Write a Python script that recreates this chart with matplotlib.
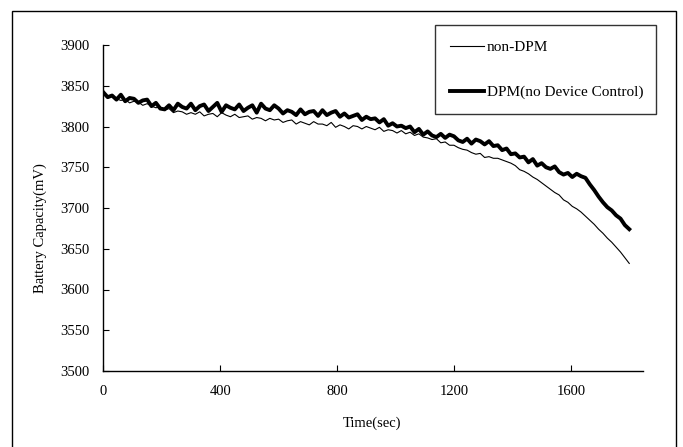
import numpy as np
import matplotlib
matplotlib.use("Agg")
import matplotlib.pyplot as plt
from matplotlib.patches import Rectangle

# sample times (sec), one reading every 15 s
time_sec = np.arange(0, 1801, 15)

# non-DPM battery voltage (mV)
non_dpm = [
    3840, 3835, 3837, 3834, 3832, 3833, 3829, 3831, 3830, 3826,
    3828, 3825, 3823, 3824, 3820, 3822, 3817, 3819, 3818, 3815,
    3817, 3815, 3818, 3813, 3815, 3816, 3812, 3817, 3814, 3812,
    3815, 3811, 3812, 3813, 3809, 3811, 3810, 3807, 3810, 3808,
    3809, 3805, 3807, 3808, 3803, 3806, 3804, 3802, 3806, 3803,
    3803, 3801, 3805, 3799, 3802, 3800, 3797, 3801, 3800, 3797,
    3800, 3798, 3796, 3799, 3794, 3796, 3795, 3792, 3795, 3791,
    3793, 3789, 3791, 3787, 3786, 3784, 3785, 3780, 3781, 3777,
    3777, 3774, 3772, 3771, 3768, 3766, 3767, 3762, 3763, 3761,
    3761, 3759, 3757, 3755, 3752, 3747, 3745, 3742, 3738, 3735,
    3731, 3727, 3723, 3719, 3716, 3710, 3707, 3702, 3699, 3695,
    3690, 3685, 3680, 3674, 3669, 3663, 3658, 3652, 3646, 3639,
    3632,
]

# DPM (no device control) battery voltage (mV)
dpm = [
    3842, 3836, 3838, 3833, 3839, 3831, 3835, 3834, 3829, 3832,
    3833, 3825, 3829, 3822, 3821, 3826, 3820, 3828, 3824, 3822,
    3828, 3820, 3825, 3827, 3819, 3824, 3829, 3818, 3826, 3823,
    3821, 3827, 3819, 3823, 3826, 3817, 3828, 3822, 3820, 3826,
    3822, 3816, 3820, 3818, 3814, 3821, 3815, 3818, 3819, 3813,
    3820, 3814, 3817, 3819, 3812, 3816, 3811, 3813, 3815, 3808,
    3812, 3809, 3810, 3805, 3809, 3801, 3804, 3800, 3801, 3798,
    3800, 3793, 3797, 3790, 3794, 3789, 3787, 3791, 3786, 3790,
    3788, 3783, 3781, 3785, 3779, 3784, 3782, 3778, 3782, 3776,
    3777, 3771, 3773, 3766, 3767, 3762, 3763, 3756, 3760, 3752,
    3755, 3750, 3748, 3751, 3744, 3741, 3743, 3738, 3742, 3739,
    3737, 3729, 3722, 3714, 3707, 3701, 3697, 3691, 3687, 3679,
    3674,
]

x_ticks = [0, 400, 800, 1200, 1600]
y_ticks = np.arange(3500, 3901, 50)

plt.rcParams["font.family"] = ["Liberation Serif", "DejaVu Serif"]

W, H = 683, 447
fig = plt.figure(figsize=(W / 100, H / 100), dpi=100)

# outer chart border (bottom edge falls outside the image)
fig.patches.append(
    Rectangle((12 / W, -0.02), 664 / W, 1 - 11 / H + 0.02,
              transform=fig.transFigure, fill=False, edgecolor="black", linewidth=1.0)
)

ax = fig.add_axes([103.3 / W, 1 - 371 / H, (642.7 - 103.3) / W, (371 - 45) / H])
ax.plot(time_sec, non_dpm, color="black", linewidth=0.8, label="non-DPM")
ax.plot(time_sec, dpm, color="black", linewidth=2.8, label="DPM(no Device Control)")

ax.set_xlim(0, 1846)
ax.set_ylim(3500, 3900)
ax.set_xticks(x_ticks)
ax.set_yticks(y_ticks)
for s in ["top", "right"]:
    ax.spines[s].set_visible(False)
for s in ["left", "bottom"]:
    ax.spines[s].set_linewidth(1.0)
ax.tick_params(axis="x", direction="in", length=4, pad=10, labelsize=10.5)
ax.tick_params(axis="y", direction="in", length=4, pad=10, labelsize=10.5)

fig.text(372 / W, 1 - 423 / H, "Time(sec)", ha="center", va="center", fontsize=10.5)
fig.text(40 / W, 1 - 228 / H, "Battery Capacity(mV)", ha="center", va="center",
         rotation=90, fontsize=10.5)

leg = ax.legend(loc="upper left", bbox_to_anchor=(435 / W, 1 - 118 / H, 221 / W, 93 / H),
                bbox_transform=fig.transFigure, mode="expand", frameon=True, fancybox=False,
                fontsize=11, labelspacing=2.05, borderpad=1.0, handlelength=2.2,
                handletextpad=0.2, borderaxespad=0)
leg.get_frame().set_edgecolor("black")
leg.get_frame().set_linewidth(1.0)

fig.savefig("out.png", dpi=100)
